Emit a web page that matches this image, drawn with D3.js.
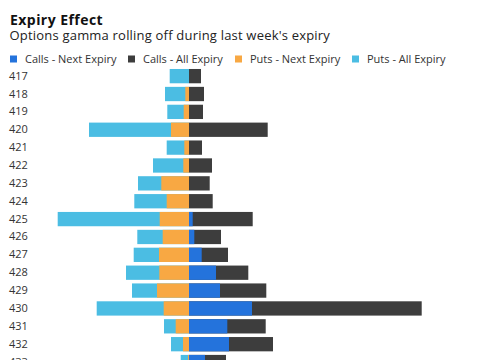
<!DOCTYPE html>
<html>
<head>
<meta charset="utf-8">
<script src="https://cdn.jsdelivr.net/npm/d3@7"></script>
<style>
  html, body { margin: 0; padding: 0; background: #fff; }
  svg { display: block; font-family: "Open Sans", "Noto Sans", sans-serif; }
</style>
</head>
<body>
<svg id="chart" width="485" height="360"></svg>
<script>
const strikes = ["417","418","419","420","421","422","423","424","425","426","427","428","429","430","431","432","433"];
const callsNext = [0, 0, 0, 0, 0, 0, 0, 0, 3.7, 5.3, 12.7, 27, 31, 63, 38.3, 40, 16];
const callsAll  = [12, 15, 14, 78.7, 13, 23, 20.7, 23.7, 63.7, 32, 39, 59.3, 77.3, 232.7, 76.7, 84, 37];
const putsNext  = [0, 3.7, 5.3, 18, 4.7, 5.7, 27.7, 22.3, 29.3, 26.3, 30, 29.7, 32, 25.3, 13.3, 6, 1];
const putsAll   = [19.3, 24, 21.7, 100, 22.3, 36, 51, 54.7, 131.3, 51.7, 55.3, 63, 57, 92.3, 25, 18, 8.3];

const seriesNames = ["Calls - Next Expiry", "Calls - All Expiry", "Puts - Next Expiry", "Puts - All Expiry"];
const colors = { callsNext: "#2473dc", callsAll: "#3d3d3d", putsNext: "#f8a843", putsAll: "#4bbde3" };
const legendColors = [colors.callsNext, colors.callsAll, colors.putsNext, colors.putsAll];

const svg = d3.select("#chart");

// Title & subtitle
svg.append("text").attr("x", 10).attr("y", 25)
  .attr("font-size", 14).attr("font-weight", "bold").attr("letter-spacing", 0.45).attr("fill", "#111")
  .text("Expiry Effect");
svg.append("text").attr("x", 9.5).attr("y", 39.5)
  .attr("font-size", 13).attr("letter-spacing", 0.2).attr("fill", "#222")
  .text("Options gamma rolling off during last week's expiry");

// Legend
const legendX = [10, 128, 235, 352];
const lg = svg.append("g");
seriesNames.forEach((n, i) => {
  lg.append("rect").attr("x", legendX[i]).attr("y", 55.5).attr("width", 7).attr("height", 7)
    .attr("fill", legendColors[i]);
  lg.append("text").attr("x", legendX[i] + 15).attr("y", 59).attr("dy", "0.35em")
    .attr("font-size", 11).attr("fill", "#333").text(n);
});

// Scales
const x = d3.scaleLinear().domain([-140, 240]).range([49, 429]);
const y = d3.scaleBand().domain(strikes).range([67.2, 67.2 + 17.87 * strikes.length])
  .paddingInner(0.2).paddingOuter(0.1);

const rows = strikes.map((s, i) => ({ s, cn: callsNext[i], ca: callsAll[i], pn: putsNext[i], pa: putsAll[i] }));

const g = svg.append("g");
function bars(cls, v0, v1, color) {
  g.selectAll("rect." + cls).data(rows).join("rect")
    .attr("class", cls)
    .attr("x", d => Math.min(x(v0(d)), x(v1(d))))
    .attr("width", d => Math.abs(x(v1(d)) - x(v0(d))))
    .attr("y", d => y(d.s))
    .attr("height", y.bandwidth())
    .attr("fill", color);
}
bars("pa", d => -d.pa, d => 0, colors.putsAll);
bars("pn", d => -d.pn, d => 0, colors.putsNext);
bars("ca", d => 0, d => d.ca, colors.callsAll);
bars("cn", d => 0, d => d.cn, colors.callsNext);

// Category labels
const yAxis = d3.axisLeft(y).tickSize(0).tickPadding(0);
const ax = svg.append("g").attr("transform", "translate(9,0)").call(yAxis);
ax.select(".domain").remove();
ax.selectAll("text").attr("text-anchor", "start").attr("x", 0)
  .attr("font-size", 11).attr("font-family", "'Open Sans', sans-serif").attr("fill", "#333");
</script>
</body>
</html>
